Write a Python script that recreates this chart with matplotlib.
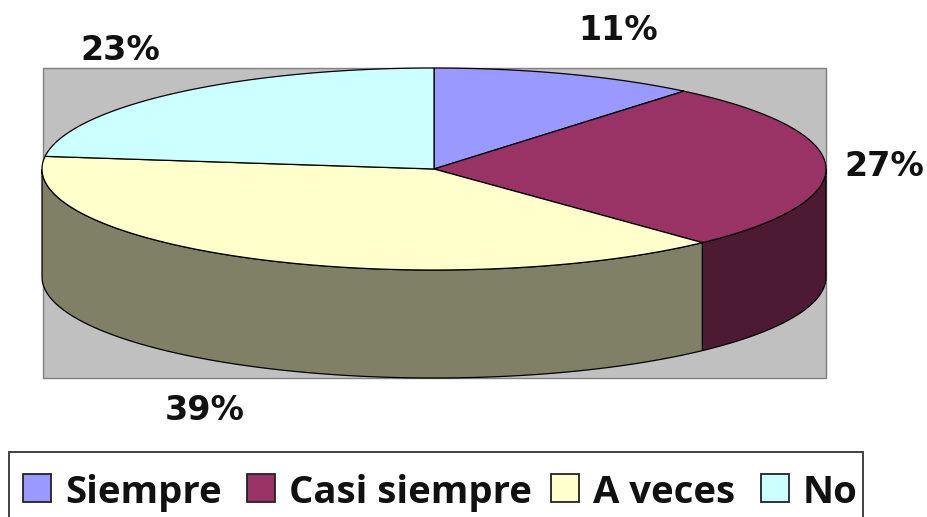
import matplotlib
matplotlib.use("Agg")
import matplotlib.pyplot as plt
import numpy as np
from matplotlib.patches import Polygon, Rectangle

categories = ["Siempre", "Casi siempre", "A veces", "No"]
values = [11, 27, 39, 23]
labels = ["11%", "27%", "39%", "23%"]
top_colors = ["#9999FF", "#993366", "#FFFFCC", "#CCFFFF"]
side_colors = ["#4D4D80", "#4D1A33", "#808066", "#668080"]
label_pos = [(618, 31), (884, 166), (205, 411), (120, 51)]
legend_x = [23, 247, 551, 761]

# pie geometry in pixels
cx, cy = 434, 169
rx, ry = 392, 101
depth = 108


def rim(t):
    return cx + rx * np.sin(t), cy - ry * np.cos(t)


fig = plt.figure(figsize=(9.27, 5.17), dpi=100)
ax = fig.add_axes([0, 0, 1, 1])
ax.set_xlim(0, 927)
ax.set_ylim(517, 0)
ax.axis("off")

ax.add_patch(Rectangle((43, 68), 783, 310, facecolor="#C0C0C0", edgecolor="#808080", linewidth=1, zorder=1))

edges = np.radians(np.cumsum([0] + values) * 3.6)

# side walls first, only the front half of the rim shows
for i in range(len(values)):
    a, b = max(edges[i], np.pi / 2), min(edges[i + 1], 3 * np.pi / 2)
    if a >= b:
        continue
    t = np.linspace(a, b, 120)
    x, y = rim(t)
    pts = np.r_[np.c_[x, y], np.c_[x[::-1], y[::-1] + depth]]
    ax.add_patch(Polygon(pts, closed=True, facecolor=side_colors[i], edgecolor="black", linewidth=0.9, zorder=2))

for i in range(len(values)):
    t = np.linspace(edges[i], edges[i + 1], 120)
    x, y = rim(t)
    pts = np.r_[[[cx, cy]], np.c_[x, y]]
    ax.add_patch(Polygon(pts, closed=True, facecolor=top_colors[i], edgecolor="black", linewidth=0.9, zorder=3))

for lab, (lx, ly) in zip(labels, label_pos):
    ax.text(lx, ly, lab, fontsize=24, fontweight="bold", family="DejaVu Sans", color="#111111",
            ha="center", va="center", zorder=5)

# legend box runs off the bottom of the picture
ax.add_patch(Rectangle((9.5, 452), 854, 80, facecolor="white", edgecolor="#333333", linewidth=1.3, zorder=4))
for name, color, lx in zip(categories, top_colors, legend_x):
    ax.add_patch(Rectangle((lx, 474), 28, 28, facecolor=color, edgecolor="#222222", linewidth=1.3, zorder=5))
    ax.text(lx + 42, 503, name, fontsize=27.5, fontweight="bold", family="Open Sans", color="#111111",
            ha="left", va="baseline", zorder=5)

fig.savefig("out.png", dpi=100)
